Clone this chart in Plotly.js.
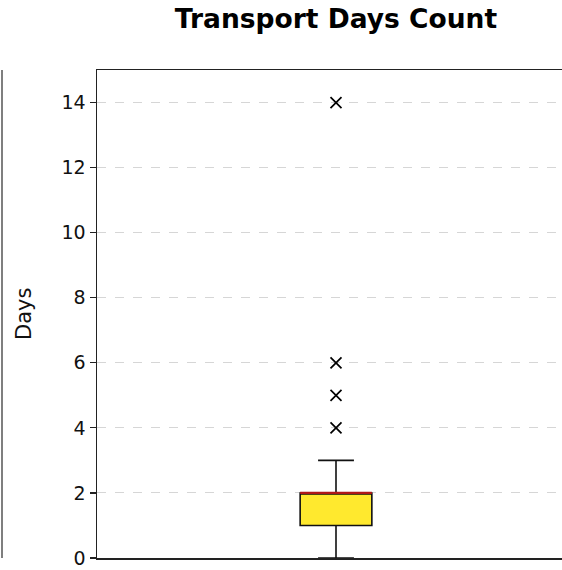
<!DOCTYPE html>
<html>
<head>
<meta charset="utf-8">
<script src="https://cdn.plot.ly/plotly-3.0.1.min.js"></script>
<style>html,body{margin:0;padding:0;background:#fff;}#chart{width:562px;height:570px;}</style>
</head>
<body>
<div id="chart"></div>
<script>
// Data
const category = ["Transport"];
const q1 = [1];
const median = [2];
const q3 = [2];
const lowerFence = [0];
const upperFence = [3];
const outliers = [4, 5, 6, 14];
const yTicks = [0, 2, 4, 6, 8, 10, 12, 14];

const boxWidth = 0.3;
const xPos = 0;

const traces = [
  {
    type: 'box',
    x: [xPos],
    q1: q1, median: median, q3: q3,
    lowerfence: lowerFence, upperfence: upperFence,
    width: boxWidth,
    whiskerwidth: 0.5,
    fillcolor: '#ffe92e',
    line: {color: '#111111', width: 1.6},
    boxpoints: false,
    hoverinfo: 'skip',
    showlegend: false
  },
  {
    type: 'scatter', mode: 'lines',
    x: [xPos - boxWidth / 2, xPos + boxWidth / 2],
    y: [median[0], median[0]],
    line: {color: '#b01818', width: 2.2},
    hoverinfo: 'skip', showlegend: false
  },
  {
    type: 'scatter', mode: 'markers',
    x: outliers.map(() => xPos),
    y: outliers,
    marker: {symbol: 'x-thin-open', size: 11, color: '#000', line: {color: '#000', width: 1.7}},
    hoverinfo: 'skip', showlegend: false
  }
];

const layout = {
  width: 562, height: 570,
  margin: {l: 97, r: 0, t: 70, b: 12},
  paper_bgcolor: '#fff', plot_bgcolor: '#fff',
  font: {family: 'DejaVu Sans', color: '#111', size: 19},
  title: {
    text: '<b>Transport Days Count</b>',
    font: {family: 'DejaVu Sans', size: 26.5, color: '#000'},
    xref: 'paper', x: 0.514, xanchor: 'center',
    yref: 'container', y: 0.967, yanchor: 'middle'
  },
  xaxis: {
    range: [-1, 0.9456],
    showticklabels: false, ticks: '', showgrid: false, zeroline: false,
    showline: true, mirror: true, linecolor: '#222', linewidth: 1.5
  },
  yaxis: {
    range: [0, 15],
    tickvals: yTicks,
    ticks: 'outside', ticklen: 6, tickwidth: 1.2, tickcolor: '#222',
    tickfont: {family: 'DejaVu Sans', size: 19, color: '#111'},
    showgrid: true, gridcolor: '#d6d6d6', griddash: 'dash', gridwidth: 1,
    zeroline: false, showline: true, linecolor: '#222', linewidth: 1.5
  },
  shapes: [
    {type: 'line', xref: 'paper', yref: 'paper', x0: -0.2043, x1: -0.2043, y0: 0, y1: 1,
     line: {color: '#555', width: 1.5}}
  ],
  annotations: [
    {text: 'Days', xref: 'paper', yref: 'paper', x: (24 - 97) / 465, y: 0.5,
     xanchor: 'center', yanchor: 'middle', textangle: -90, showarrow: false,
     font: {family: 'DejaVu Sans', size: 21, color: '#111'}}
  ]
};

Plotly.newPlot('chart', traces, layout, {staticPlot: true, displayModeBar: false});
</script>
</body>
</html>
